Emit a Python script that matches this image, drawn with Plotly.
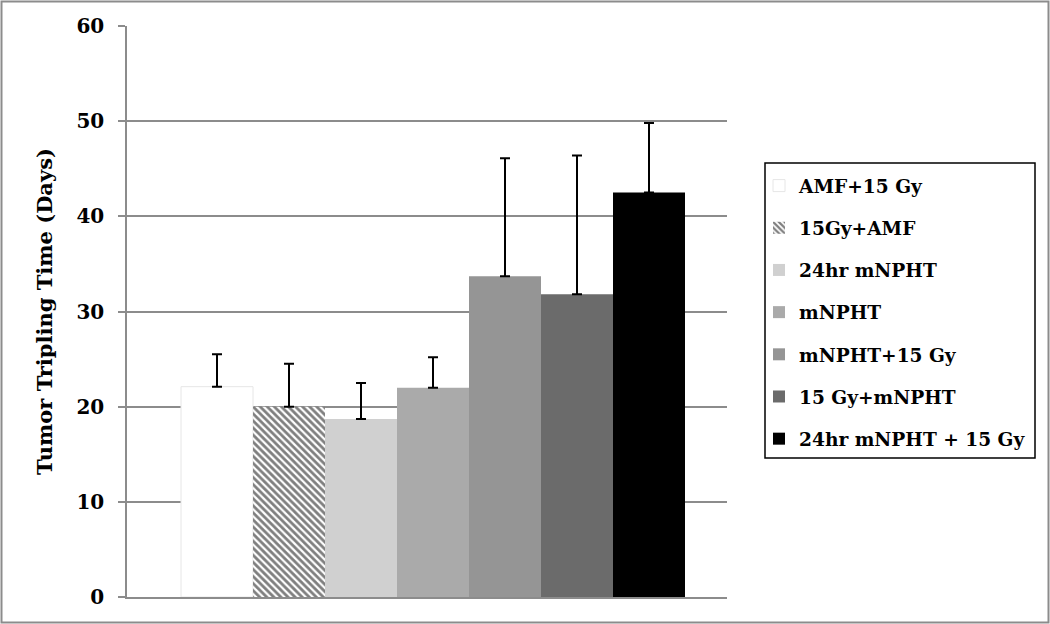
import plotly.graph_objects as go

# Data
groups = ["AMF+15 Gy", "15Gy+AMF", "24hr mNPHT", "mNPHT", "mNPHT+15 Gy",
          "15 Gy+mNPHT", "24hr mNPHT + 15 Gy"]
means = [22.1, 20.0, 18.7, 22.0, 33.7, 31.8, 42.5]
errors_plus = [3.4, 4.5, 3.8, 3.2, 12.4, 14.6, 7.3]
colors = ["#ffffff", "#ffffff", "#d0d0d0", "#aaaaaa", "#959595", "#6b6b6b", "#000000"]
y_ticks = [0, 10, 20, 30, 40, 50, 60]

FONT = "DejaVu Serif"
GRID = "#8c8c8c"

fig = go.Figure()
for i, (g, m, e, c) in enumerate(zip(groups, means, errors_plus, colors)):
    pattern = None
    line = dict(width=0)
    if i == 1:
        pattern = dict(shape="\\", fgcolor="#000000", bgcolor="#ffffff", size=5, solidity=0.55)
    if i == 0:
        line = dict(width=1, color="#e6e6e6")
    fig.add_trace(go.Bar(
        x=[""], y=[m], name=g, legendgroup=g,
        marker=dict(color=c, line=line, pattern=pattern),
        error_y=dict(type="data", symmetric=False, array=[e], arrayminus=[0],
                     color="#000000", thickness=2, width=5),
    ))

W, H = 1050, 624
L, R, T, B = 127, 323, 26, 27
pw, ph = W - L - R, H - T - B

def px_x(x):
    return (x - L) / pw

def px_y(y):
    return 1 - (y - T) / ph

fig.update_layout(
    width=W, height=H,
    margin=dict(l=L, r=R, t=T, b=B),
    paper_bgcolor="#ffffff", plot_bgcolor="#ffffff",
    barmode="group", bargap=0.16, bargroupgap=0,
    showlegend=True,
    legend=dict(
        x=px_x(759), y=px_y(167), xanchor="left", yanchor="top",
        font=dict(family=FONT, size=18.6, color="#000000", weight="bold"),
        borderwidth=0, bgcolor="rgba(0,0,0,0)",
        tracegroupgap=15, itemclick=False,
    ),
    xaxis=dict(
        type="category", range=[-0.51, 0.49],
        showline=True, linecolor=GRID, linewidth=1.5,
        showgrid=False, showticklabels=False, ticks="", zeroline=False,
    ),
    yaxis=dict(
        range=[0, 60], tickvals=y_ticks,
        showline=True, linecolor=GRID, linewidth=1.5,
        showgrid=True, gridcolor=GRID, gridwidth=1.5,
        ticks="outside", ticklen=7, tickcolor=GRID, tickwidth=1.5,
        ticklabelstandoff=10,
        tickfont=dict(family=FONT, size=20, color="#000000", weight="bold"),
        zeroline=False,
        title=dict(text="Tumor Tripling Time (Days)", standoff=18,
                   font=dict(family=FONT, size=21, color="#000000", weight="bold")),
    ),
    shapes=[
        dict(type="rect", xref="paper", yref="paper",
             x0=px_x(765), x1=px_x(1035), y0=px_y(458), y1=px_y(163),
             line=dict(color="#000000", width=1.5), fillcolor="rgba(0,0,0,0)"),
        dict(type="rect", xref="paper", yref="paper",
             x0=px_x(1.5), x1=px_x(1048.5), y0=px_y(622.5), y1=px_y(1.5),
             line=dict(color="#8c8c8c", width=2), fillcolor="rgba(0,0,0,0)"),
    ],
)

fig.write_html("out.html", config={"displayModeBar": False},
               post_script="document.body.style.margin='0';")
